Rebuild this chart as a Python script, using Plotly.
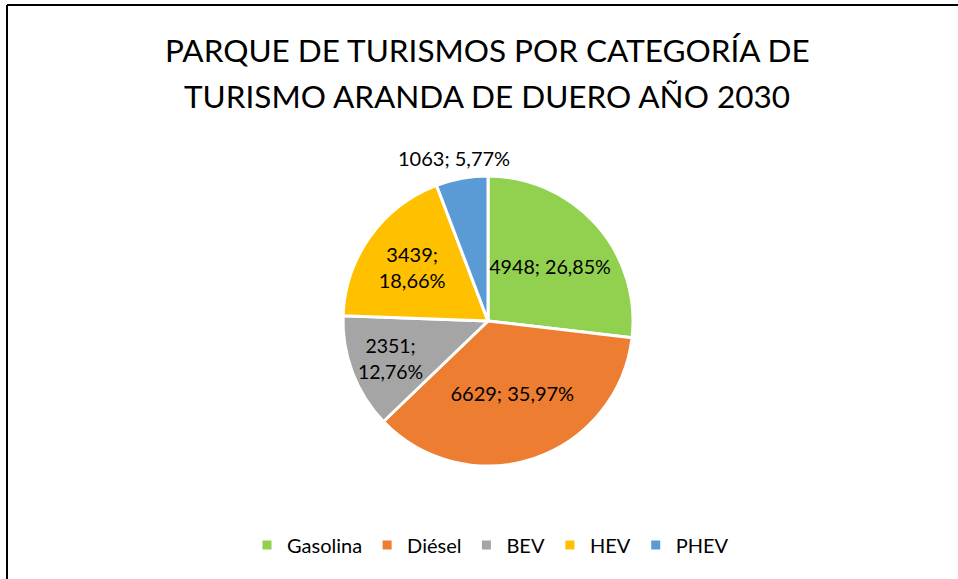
import plotly.graph_objects as go

categories = ["Gasolina", "Diésel", "BEV", "HEV", "PHEV"]
values = [4948, 6629, 2351, 3439, 1063]
colors = ["#92D050", "#ED7D31", "#A5A5A5", "#FFC000", "#5B9BD5"]
title_lines = ["PARQUE DE TURISMOS POR CATEGORÍA DE", "TURISMO ARANDA DE DUERO AÑO 2030"]

W, H = 958, 579
FONT = "Lato, 'Open Sans', sans-serif"

def px_x(p):
    return p / W

def px_y(p):
    return 1 - p / H

one = "%{value:d}; %{percent:.2%}"
two = "%{value:d};<br>%{percent:.2%}"
templates = [one, one, two, two, ""]
positions = ["inside", "inside", "inside", "inside", "none"]

fig = go.Figure(go.Pie(
    labels=categories,
    values=values,
    sort=False,
    direction="clockwise",
    rotation=0,
    marker=dict(colors=colors, line=dict(color="white", width=3)),
    texttemplate=templates,
    textposition=positions,
    insidetextorientation="horizontal",
    textfont=dict(family=FONT, size=20, color="#000000"),
    domain=dict(x=[px_x(343), px_x(633)], y=[px_y(466), px_y(176)]),
    hoverinfo="label+value+percent",
))

annotations = []
for line, cy in zip(title_lines, [50, 96]):
    annotations.append(dict(text=line, x=px_x(487), y=px_y(cy), xref="paper", yref="paper",
                            xanchor="center", yanchor="middle", showarrow=False,
                            font=dict(family=FONT, size=31.5, color="#000000")))

# outside label for the small slice (PHEV)
total = sum(values)
small_label = f"{values[4]}; {100 * values[4] / total:.2f}%".replace(".", ",")
annotations.append(dict(text=small_label, x=px_x(454), y=px_y(158), xref="paper", yref="paper",
                        xanchor="center", yanchor="middle", showarrow=False,
                        font=dict(family=FONT, size=20, color="#000000")))

fig.update_layout(
    width=W, height=H,
    margin=dict(l=0, r=0, t=0, b=0),
    paper_bgcolor="white",
    plot_bgcolor="white",
    separators=",.",
    showlegend=True,
    legend=dict(
        orientation="h", x=0.512, xanchor="center", y=px_y(545), yanchor="middle",
        font=dict(family=FONT, size=20, color="#000000"),
        itemwidth=30, traceorder="normal",
    ),
    annotations=annotations,
    shapes=[
        dict(type="line", xref="paper", yref="paper", x0=px_x(7), x1=px_x(958), y0=px_y(5), y1=px_y(5),
             line=dict(color="#000000", width=2)),
        dict(type="line", xref="paper", yref="paper", x0=px_x(7), x1=px_x(7), y0=px_y(5), y1=px_y(579),
             line=dict(color="#000000", width=2)),
    ],
)

fig.write_html("out.html", config={"displayModeBar": False},
               post_script="document.body.style.margin='0';document.body.style.overflow='hidden';")
